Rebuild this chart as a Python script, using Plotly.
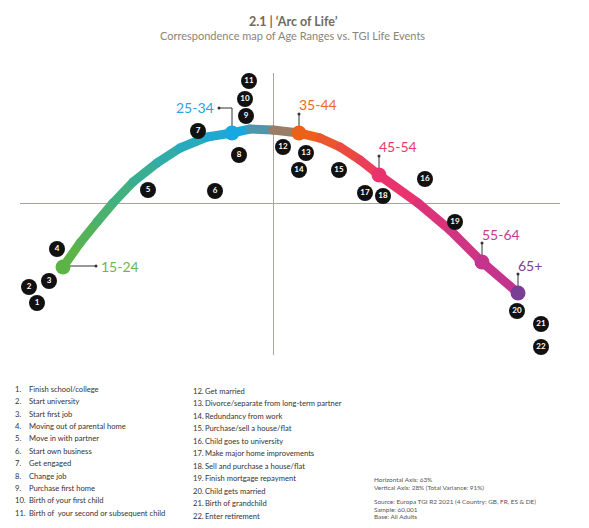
import plotly.graph_objects as go

# Correspondence map coordinates (dimension 1 = horizontal, dimension 2 = vertical)
event_labels = [str(i) for i in range(1, 23)]
event_x = [-1.18, -1.22, -1.12, -1.08, -0.625, -0.29, -0.375, -0.17, -0.135, -0.14, -0.12,
           0.05, 0.165, 0.13, 0.33, 0.76, 0.46, 0.55, 0.91, 1.22, 1.34, 1.34]
event_y = [-0.50, -0.42, -0.39, -0.23, 0.065, 0.06, 0.36, 0.24, 0.435, 0.52, 0.61,
           0.28, 0.25, 0.165, 0.165, 0.12, 0.05, 0.035, -0.095, -0.54, -0.605, -0.72]

event_names = [
    "Finish school/college", "Start university", "Start first job",
    "Moving out of parental home", "Move in with partner", "Start own business",
    "Get engaged", "Change job", "Purchase first home", "Birth of your first child",
    "Birth of  your second or subsequent child", "Get married",
    "Divorce/separate from long-term partner", "Redundancy from work",
    "Purchase/sell a house/flat", "Child goes to university",
    "Make major home improvements", "Sell and purchase a house/flat",
    "Finish mortgage repayment", "Child gets married", "Birth of grandchild",
    "Enter retirement",
]

age_labels = ["15-24", "25-34", "35-44", "45-54", "55-64", "65+"]
age_x = [-1.05, -0.205, 0.13, 0.53, 1.045, 1.225]
age_y = [-0.32, 0.35, 0.35, 0.14, -0.295, -0.45]
age_colors = ["#5db446", "#17a8e2", "#ec6119", "#e8336e", "#c4348d", "#7b3e96"]
age_text_colors = ["#6cb84f", "#1ea9e1", "#ec6a1f", "#e83a6e", "#c43c94", "#7e409a"]

# path of the "arc of life" curve
arc_x = [-1.05, -0.965, -0.88, -0.80, -0.70, -0.58, -0.465, -0.33, -0.205, -0.115, 0.0,
         0.13, 0.235, 0.335, 0.435, 0.53, 0.725, 0.885, 1.045, 1.225]
arc_y = [-0.32, -0.20, -0.095, 0.0, 0.105, 0.20, 0.275, 0.33, 0.35, 0.37, 0.365,
         0.35, 0.325, 0.28, 0.215, 0.14, 0.0, -0.135, -0.295, -0.45]
arc_nodes = [0, 8, 11, 15, 18, 19]

footnotes = [
    ("Horizontal Axis: 63%", 479.3),
    ("Vertical Axis: 28% (Total Variance: 91%)", 487.3),
    ("Source: Europa TGI R2 2021 (4 Country: GB, FR, ES & DE)", 501.7),
    ("Sample: 60,001", 509.0),
    ("Base: All Adults", 516.7),
]

W, H = 589, 528
FONT = "Lato"


def _hex(c):
    c = c.lstrip("#")
    return [int(c[i:i + 2], 16) for i in (0, 2, 4)]


def _mix(a, b, t):
    ca, cb = _hex(a), _hex(b)
    return "rgb(%d,%d,%d)" % tuple(round(ca[k] + (cb[k] - ca[k]) * t) for k in range(3))


def _arc_colors():
    """Colour of each arc point, blended between the age-node colours."""
    dist = [0.0]
    for i in range(1, len(arc_x)):
        d = ((arc_x[i] - arc_x[i - 1]) ** 2 + (arc_y[i] - arc_y[i - 1]) ** 2) ** 0.5
        dist.append(dist[-1] + d)
    cols = []
    for i in range(len(arc_x)):
        for k in range(len(arc_nodes) - 1):
            a, b = arc_nodes[k], arc_nodes[k + 1]
            if a <= i <= b:
                t = (dist[i] - dist[a]) / (dist[b] - dist[a])
                cols.append(_mix(age_colors[k], age_colors[k + 1], t))
                break
    return cols


def _paper(px, py):
    return px / W, 1 - py / H


fig = go.Figure()

# gradient arc, drawn segment by segment
cols = _arc_colors()
for i in range(len(arc_x) - 1):
    fig.add_trace(go.Scatter(
        x=[arc_x[i], arc_x[i + 1]], y=[arc_y[i], arc_y[i + 1]], mode="lines",
        line=dict(color=cols[i], width=9), hoverinfo="skip", showlegend=False,
    ))
fig.add_trace(go.Scatter(
    x=arc_x, y=arc_y, mode="markers",
    marker=dict(size=9, color=cols, line=dict(width=0)),
    hoverinfo="skip", showlegend=False, cliponaxis=False,
))

# leader lines for the age labels (offsets in axis units, 1 unit = 200px)
lead_x, lead_y, dot_x, dot_y = [], [], [], []
for i, (nx, ny) in enumerate(zip(age_x, age_y)):
    if i == 0:
        lead_x += [nx, nx + 0.165, None]
        lead_y += [ny + 0.005, ny + 0.005, None]
        dot_x.append(nx + 0.165)
        dot_y.append(ny + 0.005)
    elif i == 1:
        lead_x += [nx - 0.065, nx, nx, None]
        lead_y += [ny + 0.125, ny + 0.125, ny, None]
        dot_x.append(nx - 0.065)
        dot_y.append(ny + 0.125)
    else:
        lead_x += [nx, nx, None]
        lead_y += [ny, ny + 0.095, None]
        dot_x.append(nx)
        dot_y.append(ny + 0.095)
fig.add_trace(go.Scatter(x=lead_x, y=lead_y, mode="lines", line=dict(color="#333333", width=1),
                         hoverinfo="skip", showlegend=False))
fig.add_trace(go.Scatter(x=dot_x, y=dot_y, mode="markers", marker=dict(size=3, color="#333333"),
                         hoverinfo="skip", showlegend=False, cliponaxis=False))

# age nodes
fig.add_trace(go.Scatter(
    x=age_x, y=age_y, mode="markers",
    marker=dict(size=15, color=age_colors, line=dict(width=0)),
    text=age_labels, hoverinfo="text", showlegend=False, cliponaxis=False,
))

# life events
fig.add_trace(go.Scatter(
    x=event_x, y=event_y, mode="markers+text",
    marker=dict(size=16, color="#111111", line=dict(width=0)),
    text=event_labels, textposition="middle center",
    textfont=dict(family=FONT, size=8, color="white", weight="bold"),
    hovertext=event_names, hoverinfo="text", showlegend=False, cliponaxis=False,
))

# age labels
for i, (lab, nx, ny) in enumerate(zip(age_labels, age_x, age_y)):
    if i == 0:
        kw = dict(xanchor="left", xshift=36, yshift=1)
    elif i == 1:
        kw = dict(xanchor="right", xshift=-16, yshift=25)
    else:
        kw = dict(xanchor="left", xshift=-2, yshift=28)
    fig.add_annotation(x=nx, y=ny, xref="x", yref="y", text=lab, showarrow=False,
                       yanchor="middle", font=dict(family=FONT, size=14, color=age_text_colors[i]), **kw)

# titles
tx, ty = _paper(293, 22)
fig.add_annotation(x=tx, y=ty, xref="paper", yref="paper", text="<b>2.1 | \u2018Arc of Life\u2019</b>",
                   showarrow=False, xanchor="center", yanchor="middle",
                   font=dict(family=FONT, size=12.5, color="#6f6a5e"))
tx, ty = _paper(292, 35)
fig.add_annotation(x=tx, y=ty, xref="paper", yref="paper",
                   text="Correspondence map of Age Ranges vs. TGI Life Events",
                   showarrow=False, xanchor="center", yanchor="middle",
                   font=dict(family=FONT, size=11, color="#8a8576"))

# numbered key below the map
for i, name in enumerate(event_names):
    if i < 11:
        nx_px, tx_px, py = 13, 27, 389 + i * 12.37
    else:
        nx_px, tx_px, py = 190.7, 202.5, 390.7 + (i - 11) * 12.5
    x0, y0 = _paper(nx_px, py)
    x1, _ = _paper(tx_px, py)
    fig.add_annotation(x=x0, y=y0, xref="paper", yref="paper", text=f"{i + 1}.", showarrow=False,
                       xanchor="left", yanchor="middle", font=dict(family=FONT, size=7.6, color="#333333"))
    fig.add_annotation(x=x1, y=y0, xref="paper", yref="paper", text=name, showarrow=False,
                       xanchor="left", yanchor="middle", font=dict(family=FONT, size=7.6, color="#333333"))

for line, py in footnotes:
    x0, y0 = _paper(372.3, py)
    fig.add_annotation(x=x0, y=y0, xref="paper", yref="paper", text=line, showarrow=False,
                       xanchor="left", yanchor="middle", font=dict(family=FONT, size=6.4, color="#555555"))

axis_common = dict(showgrid=False, zeroline=True, zerolinecolor="#a8a59c", zerolinewidth=1,
                   showticklabels=False, ticks="", showline=False, fixedrange=True)
fig.update_layout(
    width=W, height=H,
    margin=dict(l=0, r=0, t=0, b=0),
    paper_bgcolor="white", plot_bgcolor="white",
    xaxis=dict(domain=[20 / W, 560 / W], range=[-1.265, 1.435], **axis_common),
    yaxis=dict(domain=[1 - 355 / H, 1 - 73 / H], range=[-0.76, 0.65], **axis_common),
    font=dict(family=FONT),
)

# drop the default page margin so the figure sits flush in the window
fig.write_html("out.html", config={"displayModeBar": False},
               post_script="document.body.style.margin='0px';")
